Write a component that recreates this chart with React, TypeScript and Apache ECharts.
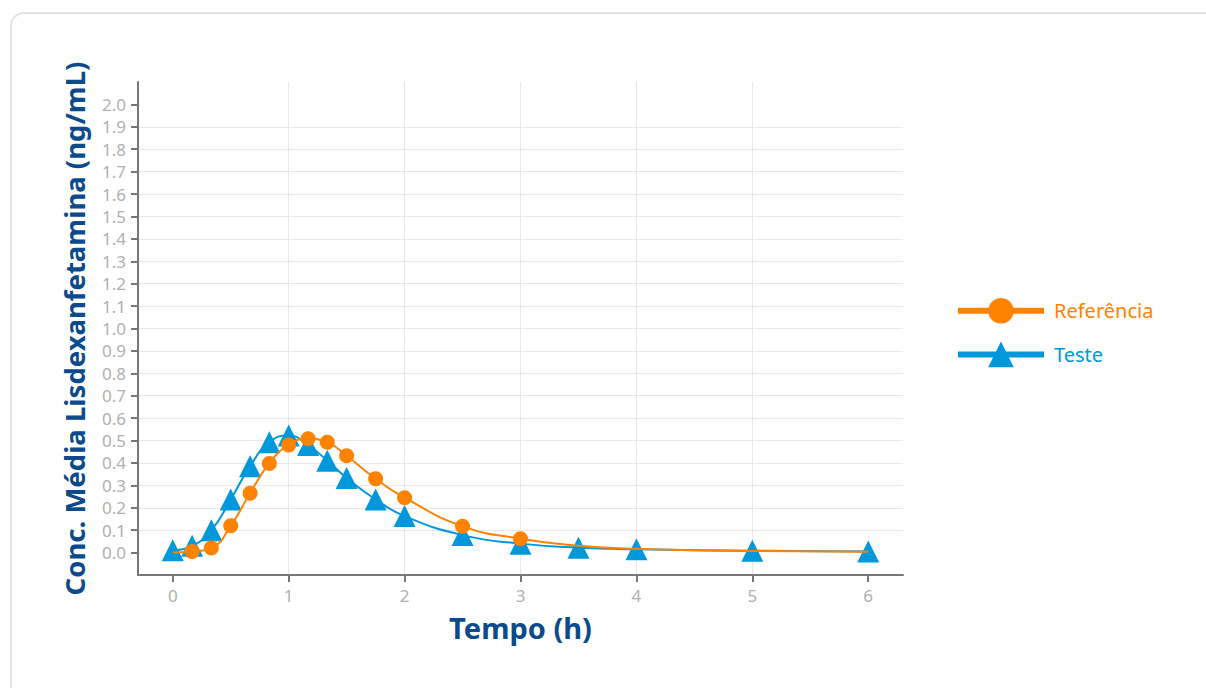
import React, { useEffect, useRef } from "react";
import * as echarts from "echarts";

const ORANGE = "#FF8200";
const BLUE = "#0098DA";
const NAVY = "#0B4A8B";

const timesRef = [0, 0.167, 0.333, 0.5, 0.667, 0.833, 1.0, 1.167, 1.333, 1.5, 1.75, 2.0, 2.5, 3.0, 3.5, 4.0, 5.0, 6.0];
const valuesRef = [0.0, 0.005, 0.02, 0.12, 0.265, 0.398, 0.48, 0.508, 0.492, 0.432, 0.33, 0.245, 0.118, 0.062, 0.031, 0.017, 0.007, 0.004];
const markerRef = [false, true, true, true, true, true, true, true, true, true, true, true, true, true, false, false, false, false];

const timesTeste = [0, 0.167, 0.333, 0.5, 0.667, 0.833, 1.0, 1.167, 1.333, 1.5, 1.75, 2.0, 2.5, 3.0, 3.5, 4.0, 5.0, 6.0];
const valuesTeste = [0.01, 0.03, 0.1, 0.237, 0.385, 0.492, 0.522, 0.48, 0.41, 0.333, 0.237, 0.163, 0.078, 0.04, 0.022, 0.015, 0.008, 0.005];

const xTicks = [0, 1, 2, 3, 4, 5, 6];
const yTicks = [0, 0.1, 0.2, 0.3, 0.4, 0.5, 0.6, 0.7, 0.8, 0.9, 1.0, 1.1, 1.2, 1.3, 1.4, 1.5, 1.6, 1.7, 1.8, 1.9, 2.0];

const seriesNames = ["Referência", "Teste"];
const xTitle = "Tempo (h)";
const yTitle = "Conc. Média Lisdexanfetamina (ng/mL)";

export default function App() {
  const ref = useRef<HTMLDivElement>(null);
  useEffect(() => {
    document.body.style.margin = "0";
    const chart = echarts.init(ref.current!, null, { renderer: "svg" });
    const font = "'Noto Sans', sans-serif";
    chart.setOption({
      animation: false,
      textStyle: { fontFamily: font },
      grid: { left: 138, top: 82, right: 303, bottom: 113, containLabel: false },
      legend: {
        orient: "vertical",
        left: 950,
        top: 293,
        itemWidth: 86,
        itemHeight: 32,
        itemGap: 18,
        lineStyle: { width: 6 },
        textStyle: { fontSize: 20, fontFamily: font, padding: [0, 0, 0, 5] },
        data: [
          { name: seriesNames[0], textStyle: { color: ORANGE } },
          { name: seriesNames[1], textStyle: { color: BLUE } },
        ],
      },
      xAxis: {
        type: "value",
        min: -0.3,
        max: 6.3,
        splitNumber: 7,
        minInterval: 1,
        name: xTitle,
        nameLocation: "middle",
        nameGap: 38,
        nameTextStyle: { color: NAVY, fontSize: 29, fontWeight: "bold", fontFamily: font },
        axisLine: { onZero: false, lineStyle: { color: "#777", width: 2 } },
        axisTick: { customValues: xTicks, length: 7, lineStyle: { color: "#777", width: 2 } },
        axisLabel: { customValues: xTicks, color: "#b0b0b0", fontSize: 17, margin: 12 },
        splitLine: { show: true, showMinLine: false, showMaxLine: false, lineStyle: { color: "#e8e8e8", width: 1 } },
      },
      yAxis: {
        type: "value",
        min: -0.1,
        max: 2.1,
        interval: 0.1,
        name: yTitle,
        nameLocation: "middle",
        nameGap: 50,
        nameTextStyle: { color: NAVY, fontSize: 27.5, fontWeight: "bold", fontFamily: font },
        axisLine: { show: true, onZero: false, lineStyle: { color: "#777", width: 2 } },
        axisTick: { show: true, customValues: yTicks, length: 7, lineStyle: { color: "#777", width: 2 } },
        axisLabel: {
          customValues: yTicks,
          color: "#b0b0b0",
          fontSize: 17,
          margin: 12,
          formatter: (v: number) => v.toFixed(1),
        },
        splitLine: { show: true, showMinLine: false, showMaxLine: false, lineStyle: { color: "#e8e8e8", width: 1 } },
      },
      series: [
        {
          name: seriesNames[1],
          type: "line",
          smooth: true,
          symbol: "triangle",
          symbolSize: 22,
          showAllSymbol: true,
          lineStyle: { color: BLUE, width: 2 },
          itemStyle: { color: BLUE },
          data: timesTeste.map((t, i) => [t, valuesTeste[i]]),
          z: 2,
        },
        {
          name: seriesNames[0],
          type: "line",
          smooth: true,
          symbol: "circle",
          symbolSize: 15,
          showAllSymbol: true,
          lineStyle: { color: ORANGE, width: 2 },
          itemStyle: { color: ORANGE },
          data: timesRef.map((t, i) => ({
            value: [t, valuesRef[i]],
            symbol: markerRef[i] ? "circle" : "none",
          })),
          z: 3,
        },
      ],
    });
    return () => chart.dispose();
  }, []);
  return (
    <div style={{ position: "fixed", left: 0, top: 0, width: 1206, height: 688, background: "#fff" }}>
      <div
        style={{
          position: "absolute",
          left: 10,
          top: 12,
          width: 1220,
          height: 700,
          border: "2px solid #e3e3e3",
          borderRadius: 14,
          boxSizing: "border-box",
        }}
      />
      <div ref={ref} style={{ position: "absolute", left: 0, top: 0, width: 1206, height: 688 }} />
    </div>
  );
}
